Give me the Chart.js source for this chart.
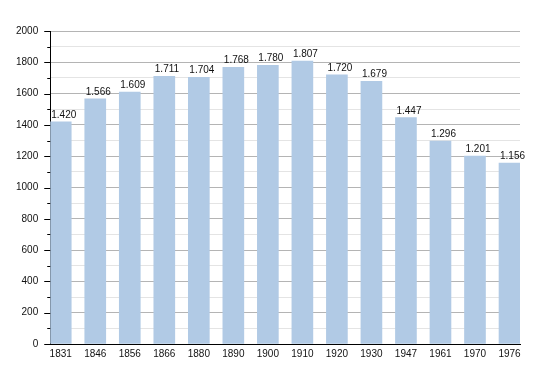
<!DOCTYPE html>
<html>
<head>
<meta charset="utf-8">
<script src="https://cdn.jsdelivr.net/npm/chart.js@4/dist/chart.umd.min.js"></script>
<style>
  html, body { margin: 0; background: #fff; }
  #wrap { width: 550px; height: 373px; }
</style>
</head>
<body>
<div id="wrap"><canvas id="populationChart"></canvas></div>
<script>
const years = ['1831', '1846', '1856', '1866', '1880', '1890', '1900', '1910', '1920', '1930', '1947', '1961', '1970', '1976'];
const population = [1420, 1566, 1609, 1711, 1704, 1768, 1780, 1807, 1720, 1679, 1447, 1296, 1201, 1156];
const yMax = 2000;
const yStep = 100;
const yLabelStep = 200;

function formatPop(v) {
    return String(v).replace(/\B(?=(\d{3})+(?!\d))/g, '.');
}

// y tick marks (long at labelled values, short between) and value labels above bars
const extrasPlugin = {
    id: 'extras',
    afterDatasetsDraw(chart) {
        const ctx = chart.ctx;
        const yScale = chart.scales.y;
        const left = chart.chartArea.left;
        ctx.save();
        ctx.strokeStyle = '#000';
        ctx.lineWidth = 1;
        yScale.ticks.forEach(t => {
            const py = Math.round(yScale.getPixelForValue(t.value)) + 0.5;
            const len = t.value % yLabelStep === 0 ? 6 : 3;
            ctx.beginPath();
            ctx.moveTo(left - len, py);
            ctx.lineTo(left, py);
            ctx.stroke();
        });

        ctx.font = '10px "Liberation Sans", Arial, sans-serif';
        ctx.fillStyle = '#111';
        ctx.textAlign = 'left';
        ctx.textBaseline = 'alphabetic';
        chart.getDatasetMeta(0).data.forEach((bar, i) => {
            ctx.fillText(formatPop(population[i]), bar.x - bar.width / 2 + 1, bar.y - 4);
        });
        ctx.restore();
    }
};

const barWidth = 21;
const edge = 0.304; // half a bar, in category units, so first/last bars touch the frame

new Chart(document.getElementById('populationChart'), {
    type: 'bar',
    data: {
        datasets: [{
            data: population.map((v, i) => ({ x: i, y: v })),
            backgroundColor: '#b1cae5',
            borderWidth: 0,
            barThickness: barWidth
        }]
    },
    options: {
        responsive: true,
        maintainAspectRatio: false,
        animation: false,
        layout: { padding: { left: 4, right: 30, top: 31, bottom: 9 } },
        plugins: {
            legend: { display: false },
            tooltip: { enabled: false }
        },
        scales: {
            x: {
                type: 'linear',
                offset: false,
                min: -edge,
                max: years.length - 1 + edge,
                afterBuildTicks: scale => { scale.ticks = years.map((_, i) => ({ value: i })); },
                grid: { display: false, drawTicks: false },
                border: { display: true, color: '#000', width: 1 },
                ticks: {
                    autoSkip: false,
                    maxRotation: 0,
                    padding: 4,
                    color: '#111',
                    font: { family: '"Liberation Sans", Arial, sans-serif', size: 10 },
                    callback: v => years[v] ?? ''
                }
            },
            y: {
                min: 0,
                max: yMax,
                grid: {
                    drawTicks: false,
                    color: c => c.tick && c.tick.value % yLabelStep === 0 ? '#b4b4b4' : '#e4e4e4',
                    lineWidth: 1
                },
                border: { display: true, color: '#000', width: 1 },
                ticks: {
                    stepSize: yStep,
                    autoSkip: false,
                    padding: 12,
                    color: '#111',
                    font: { family: '"Liberation Sans", Arial, sans-serif', size: 10 },
                    callback: v => v % yLabelStep === 0 ? v : ''
                }
            }
        }
    },
    plugins: [extrasPlugin]
});
</script>
</body>
</html>
